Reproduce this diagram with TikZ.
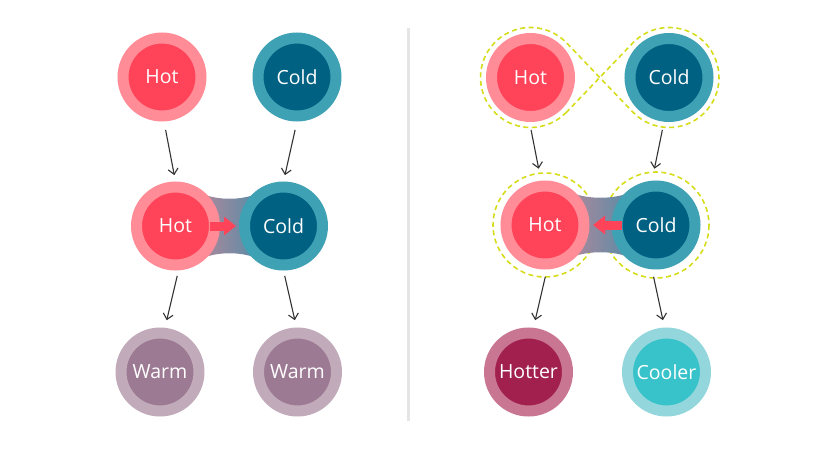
\documentclass[tikz,border=0pt]{standalone}
\usepackage{fontspec}
\setmainfont{Open Sans}
\usetikzlibrary{arrows.meta,calc}
\pgfdeclarelayer{background}
\pgfsetlayers{background,main}
\definecolor{hotOut}{HTML}{FF8C97}
\definecolor{hotIn}{HTML}{FF4459}
\definecolor{coldOut}{HTML}{3FA1B4}
\definecolor{coldIn}{HTML}{006183}
\definecolor{warmOut}{HTML}{C1ABBA}
\definecolor{warmIn}{HTML}{9D7A93}
\definecolor{hotterOut}{HTML}{C97692}
\definecolor{hotterIn}{HTML}{A1204D}
\definecolor{coolerOut}{HTML}{93D6DC}
\definecolor{coolerIn}{HTML}{38C2CA}
\definecolor{dashc}{HTML}{D5DD1B}
\definecolor{divc}{HTML}{E5E5E5}
\definecolor{arrowc}{HTML}{333333}
\definecolor{bandL}{HTML}{A8889C}
\definecolor{bandR}{HTML}{5E8CA6}
\newcommand\mybridge[2]{%
  \shade[left color=bandL, right color=bandR]
    ($(#1.center)+(30,-31)$)
    .. controls ($(#1.center)!0.5!(#2.center)+(-10,-26)$) and ($(#1.center)!0.5!(#2.center)+(10,-26)$) ..
    ($(#2.center)+(-30,-31)$) -- ($(#2.center)+(-30,31)$)
    .. controls ($(#1.center)!0.5!(#2.center)+(10,26)$) and ($(#1.center)!0.5!(#2.center)+(-10,26)$) ..
    ($(#1.center)+(30,31)$) -- cycle;}
\begin{document}
\begin{tikzpicture}[x=1pt,y=-1pt,
  ball/.style={circle, minimum size=78pt, inner sep=0pt, line width=11pt, text=white,
    font=\fontsize{19.5}{21}\selectfont},
  hot/.style={ball, draw=hotOut, fill=hotIn},
  cold/.style={ball, draw=coldOut, fill=coldIn},
  warm/.style={ball, draw=warmOut, fill=warmIn},
  hotter/.style={ball, draw=hotterOut, fill=hotterIn},
  cooler/.style={ball, draw=coolerOut, fill=coolerIn},
  flow/.style={draw=arrowc, line width=1.1pt, -{Straight Barb[length=5.5pt 0 0,width=10pt 0 0]}},
  heat/.style={draw=hotIn, line width=9pt, line cap=butt, -{Triangle[length=12pt 0 0,width=18pt 0 0]}},
  loopline/.style={draw=dashc, line width=1.6pt, dash pattern=on 5pt off 3.5pt},
  divider/.style={draw=divc, line width=3pt},
]
\useasboundingbox (0,0) rectangle (820,450);

% divider
\coordinate (dT) at (408.5,28);
\coordinate (dB) at (408.5,421);
\draw[divider] (dT) -- (dB);

% left panel
\node[hot]  (hA) at (162,77) {Hot};
\node[cold] (cA) at (297,77) {Cold};
\node[hot]  (hB) at (175.5,226) {Hot};
\node[cold] (cB) at (283.5,226) {Cold};
\node[warm] (wA) at (160,372) {Warm};
\node[warm] (wB) at (297.5,372) {Warm};

% right panel
\node[hot]  (hC) at (530.5,77.5) {Hot};
\node[cold] (cC) at (669,77.5) {Cold};
\node[hot]  (hD) at (545,225) {Hot};
\node[cold] (cD) at (656,225) {Cold};
\node[hotter] (ht) at (528.5,372) {Hotter};
\node[cooler] (co) at (666.5,372) {Cooler};

\begin{pgfonlayer}{background}
  \draw[loopline] ($(hC.center)+(43.8:50)$) arc[start angle=43.8, end angle=316.2, radius=50]
    -- ($(cC.center)+(136.2:50)$) arc[start angle=136.2, end angle=-136.2, radius=50] -- cycle;
  \draw[loopline] (hD.center) circle[radius=52];
  \draw[loopline] (cD.center) circle[radius=53];
  \mybridge{hB}{cB}
  \mybridge{hD}{cD}
\end{pgfonlayer}

% heat arrows
\draw[heat] ([xshift=34.5pt]hB.center) -- ([xshift=-47.5pt]cB.center);
\draw[heat] ([xshift=-34pt]cD.center) -- ([xshift=48pt]hD.center);

% flow arrows left
\draw[flow, shorten <=8.5pt, shorten >=6.5pt] ([xshift=2pt]hA.south) -- (hB.north);
\draw[flow, shorten <=8.5pt, shorten >=6.5pt] (cA.south) -- (cB.north);
\draw[flow, shorten <=5.5pt, shorten >=7.5pt] ([xshift=3pt]hB.south) -- ([xshift=5pt]wA.north);
\draw[flow, shorten <=5.5pt, shorten >=7.5pt] (cB.south) -- ([xshift=-1pt]wB.north);

% flow arrows right
\draw[flow, shorten <=8pt, shorten >=12pt] ([xshift=-1pt]hC.south) -- ([xshift=-4pt]hD.north);
\draw[flow, shorten <=8pt, shorten >=12pt] ([xshift=-5pt]cC.south) -- ([xshift=-4pt]cD.north);
\draw[flow, shorten <=7.5pt, shorten >=7.5pt] ([xshift=2pt]hD.south) -- ([xshift=5pt]ht.north);
\draw[flow, shorten <=7.5pt, shorten >=7.5pt] ([xshift=-4pt]cD.south) -- ([xshift=-2pt]co.north);
\end{tikzpicture}
\end{document}
